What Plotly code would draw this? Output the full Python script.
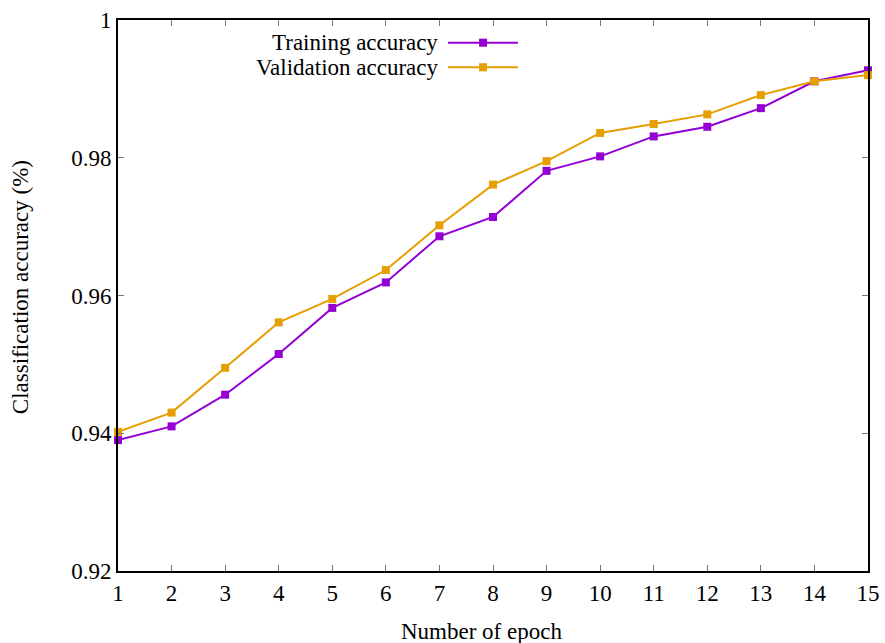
import plotly.graph_objects as go

epochs = list(range(1, 16))
training = [0.9390, 0.9410, 0.9456, 0.9515, 0.9582, 0.9619, 0.9686, 0.9714,
            0.9781, 0.9802, 0.9831, 0.9845, 0.9872, 0.9911, 0.9927]
validation = [0.9402, 0.9430, 0.9495, 0.9561, 0.9595, 0.9637, 0.9702, 0.9761,
              0.9795, 0.9836, 0.9849, 0.9863, 0.9891, 0.9911, 0.9920]
series_names = ["Training accuracy", "Validation accuracy"]
colors = ["#9400D3", "#E69F00"]
y_ticks = [0.92, 0.94, 0.96, 0.98, 1.0]
y_ticklabels = ["0.92", "0.94", "0.96", "0.98", "1"]
x_title = "Number of epoch"
y_title = "Classification accuracy (%)"

FONT = "Liberation Serif, Times New Roman, serif"
FS = 23

fig = go.Figure()
for name, vals, col in zip(series_names, [training, validation], colors):
    fig.add_trace(go.Scatter(
        x=epochs, y=vals, mode="lines+markers", name=name,
        line=dict(color=col, width=2),
        marker=dict(symbol="square", size=8, color=col),
        showlegend=False, cliponaxis=False,
    ))

# manual gnuplot-style legend (text right-aligned, sample on the right)
leg_y = [0.9588, 0.9142]
for name, col, yy in zip(series_names, colors, leg_y):
    fig.add_annotation(xref="paper", yref="paper", x=0.4293, y=yy,
                       text=name, showarrow=False, xanchor="right", yanchor="middle",
                       font=dict(family=FONT, size=FS, color="black"))
    fig.add_shape(type="line", xref="paper", yref="paper",
                  x0=0.44, x1=0.5333, y0=yy, y1=yy,
                  line=dict(color=col, width=2))
    fig.add_shape(type="rect", xref="paper", yref="paper",
                  x0=0.4867 - 0.0053, x1=0.4867 + 0.0053,
                  y0=yy - 0.0073, y1=yy + 0.0073,
                  line=dict(width=0), fillcolor=col)

# axis titles
fig.add_annotation(xref="paper", yref="paper", x=0.484, y=-0.1089, text=x_title,
                   showarrow=False, xanchor="center", yanchor="middle",
                   font=dict(family=FONT, size=FS, color="black"))
fig.add_annotation(xref="paper", yref="paper", x=-0.1307, y=0.515, text=y_title,
                   showarrow=False, xanchor="center", yanchor="middle", textangle=-90,
                   font=dict(family=FONT, size=FS, color="black"))

axis_common = dict(
    showgrid=False, zeroline=False, showline=True, linecolor="black", linewidth=2,
    mirror="ticks", ticks="inside", ticklen=6, tickwidth=1, tickcolor="#777",
    tickfont=dict(family=FONT, size=FS, color="black"), automargin=False,
)

fig.update_xaxes(range=[1, 15], tickmode="array", tickvals=epochs,
                 ticklabeloverflow="allow", **axis_common)
fig.update_yaxes(range=[0.92, 1.0], tickmode="array", tickvals=y_ticks, ticktext=y_ticklabels,
                 ticklabeloverflow="allow", **axis_common)

fig.update_layout(
    width=885, height=643,
    margin=dict(l=118, r=17, t=20, b=72),
    plot_bgcolor="white", paper_bgcolor="white",
    font=dict(family=FONT, size=FS, color="black"),
)

# remove the default 8px body margin so the figure sits at the page origin
fig.write_html("out.html",
               config={"displayModeBar": False},
               post_script="document.body.style.margin='0';document.body.style.overflow='hidden';")
